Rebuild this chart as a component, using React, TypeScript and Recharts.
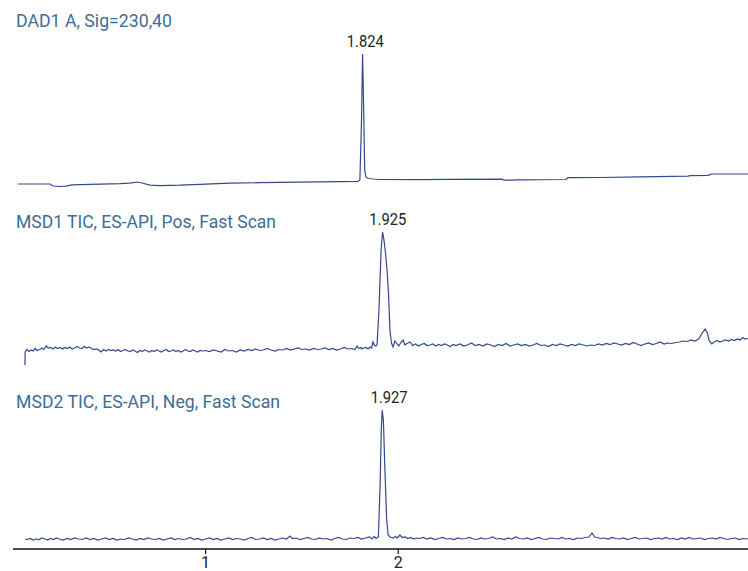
import { LineChart, Line, XAxis, YAxis, ReferenceDot } from "recharts";

// retention time (min), relative response
const dadTrace = [
  [0.026, 0], [0.192, 0], [0.208, -2], [0.244, -2.5], [0.275, -2.2], [0.306, -0.8], [0.4, -0.3],
  [0.556, 0.3], [0.607, 0.8], [0.644, 2], [0.67, 1], [0.711, -1.2], [0.763, -1.6], [0.867, -1.2],
  [0.971, -0.3], [1.127, 0.8], [1.282, 1.3], [1.49, 1.8], [1.698, 2.3], [1.791, 2.6], [1.801, 4],
  [1.809, 60], [1.815, 130], [1.821, 70], [1.826, 14], [1.832, 7], [1.845, 5.5], [1.87, 5],
  [1.906, 4.5], [2.113, 4.3], [2.269, 4.6], [2.539, 4.8], [2.549, 3.8], [2.632, 4.2], [2.871, 4.5],
  [2.882, 6.3], [3.048, 6.5], [3.255, 7.2], [3.505, 7.8], [3.515, 8.3], [3.608, 8.6], [3.629, 10],
  [3.816, 10],
];

const msd1Trace = [
  [0.062, 0], [0.063, 13], [0.072, 15.5], [0.083, 13.5], [0.094, 15], [0.104, 14], [0.115, 16.5],
  [0.125, 14.5], [0.138, 15.5], [0.15, 17], [0.16, 15.5], [0.172, 19], [0.183, 17], [0.195, 17.5],
  [0.208, 16], [0.22, 18], [0.232, 16.5], [0.245, 17.5], [0.257, 16], [0.27, 17.5], [0.282, 16.5],
  [0.295, 18], [0.307, 16], [0.32, 17], [0.333, 18.5], [0.345, 17], [0.358, 16.5], [0.37, 18.5],
  [0.383, 17], [0.395, 18], [0.408, 16.5], [0.42, 15.5], [0.433, 16], [0.445, 15], [0.457, 13],
  [0.47, 15.5], [0.483, 14], [0.495, 15.5], [0.508, 14.5], [0.52, 15], [0.533, 14], [0.546, 15.5],
  [0.558, 13.5], [0.571, 14.5], [0.583, 15.5], [0.596, 14], [0.608, 13.5], [0.621, 15], [0.633, 14],
  [0.646, 12.5], [0.658, 14.5], [0.671, 13.5], [0.683, 15], [0.696, 14], [0.708, 13], [0.721, 14.5],
  [0.733, 13.5], [0.746, 15], [0.758, 14], [0.771, 13], [0.783, 14.5], [0.796, 15.5], [0.808, 13.5],
  [0.821, 14], [0.833, 15], [0.846, 13.5], [0.858, 14.5], [0.871, 13], [0.883, 14], [0.896, 15.5],
  [0.908, 14], [0.921, 13.5], [0.933, 15], [0.946, 14], [0.958, 13], [0.971, 14.5], [0.983, 14],
  [1.0, 14.5], [1.02, 13.5], [1.04, 15], [1.06, 14], [1.08, 13], [1.1, 15.5], [1.12, 14], [1.14, 14.5],
  [1.16, 13], [1.18, 15], [1.2, 14], [1.22, 15.5], [1.24, 14.5], [1.26, 16], [1.28, 14.5], [1.3, 15],
  [1.32, 16.5], [1.34, 15], [1.36, 14], [1.38, 15.5], [1.4, 15], [1.42, 16.5], [1.44, 15], [1.46, 16],
  [1.48, 17], [1.5, 15.5], [1.52, 16], [1.54, 15], [1.56, 16.5], [1.58, 15.5], [1.6, 16], [1.62, 17],
  [1.64, 15.5], [1.66, 16.5], [1.68, 15], [1.7, 16], [1.72, 17.5], [1.74, 16], [1.76, 16.5],
  [1.775, 15.5], [1.786, 19], [1.795, 16.5], [1.805, 17.5], [1.812, 16], [1.82, 17], [1.833, 17.5],
  [1.843, 16], [1.854, 18], [1.862, 17], [1.869, 23], [1.876, 20], [1.883, 19], [1.89, 20],
  [1.9, 55], [1.911, 115], [1.919, 133], [1.926, 125], [1.934, 112], [1.942, 95], [1.95, 70],
  [1.957, 35], [1.965, 22], [1.973, 18], [1.983, 24], [1.994, 21], [2.003, 19], [2.012, 22],
  [2.025, 25], [2.035, 20], [2.045, 21.5], [2.061, 23], [2.075, 19.5], [2.09, 21], [2.105, 19],
  [2.12, 20.5], [2.135, 21.5], [2.15, 19.5], [2.165, 20], [2.18, 21], [2.195, 19], [2.21, 20.5],
  [2.225, 19.5], [2.24, 21], [2.255, 20], [2.27, 18.5], [2.285, 20.5], [2.3, 19.5], [2.32, 21],
  [2.34, 19], [2.36, 20], [2.38, 22], [2.4, 19.5], [2.42, 20.5], [2.44, 19], [2.46, 21], [2.48, 20],
  [2.5, 18.5], [2.52, 20.5], [2.54, 19.5], [2.56, 21.5], [2.58, 19], [2.6, 20], [2.62, 21],
  [2.64, 19.5], [2.66, 20.5], [2.68, 19], [2.7, 20], [2.72, 21.5], [2.74, 19.5], [2.76, 20],
  [2.78, 18.5], [2.8, 20.5], [2.82, 19.5], [2.84, 21], [2.86, 20], [2.88, 19], [2.9, 20.5],
  [2.92, 19.5], [2.94, 21], [2.96, 20], [2.98, 19], [3.0, 20], [3.02, 19.5], [3.04, 21], [3.06, 20],
  [3.08, 21.5], [3.1, 20.5], [3.12, 22], [3.14, 21], [3.16, 20], [3.18, 21.5], [3.2, 20.5],
  [3.22, 22.5], [3.24, 21], [3.26, 19.5], [3.28, 21], [3.3, 22], [3.32, 20.5], [3.34, 21.5],
  [3.36, 23], [3.38, 21], [3.4, 22], [3.42, 21.5], [3.44, 22.5], [3.46, 23], [3.48, 24], [3.5, 23.5],
  [3.52, 25], [3.54, 24], [3.56, 26], [3.575, 31], [3.593, 36], [3.605, 32], [3.615, 24],
  [3.628, 21], [3.64, 23], [3.655, 24.5], [3.67, 23], [3.685, 24], [3.7, 25], [3.715, 24],
  [3.73, 25.5], [3.745, 24.5], [3.76, 26], [3.775, 25], [3.79, 27.5], [3.8, 26], [3.816, 26.5],
];

const msd2Trace = [
  [0.062, 6], [0.075, 5.5], [0.09, 6.5], [0.105, 5], [0.12, 6], [0.135, 5.5], [0.15, 7], [0.165, 6],
  [0.18, 5], [0.195, 6.5], [0.21, 5.5], [0.225, 7], [0.24, 6], [0.26, 5], [0.28, 6.5], [0.3, 5.5],
  [0.32, 7], [0.34, 6], [0.36, 5.5], [0.38, 7], [0.4, 5.5], [0.42, 6.5], [0.44, 5], [0.46, 6],
  [0.48, 7], [0.5, 5.5], [0.52, 6.5], [0.54, 5], [0.56, 6], [0.58, 5.5], [0.6, 7], [0.62, 6],
  [0.64, 5], [0.66, 6.5], [0.68, 5.5], [0.7, 7], [0.72, 6], [0.74, 5.5], [0.76, 6.5], [0.78, 5],
  [0.8, 6], [0.82, 7], [0.84, 5.5], [0.86, 6.5], [0.88, 5.5], [0.9, 6], [0.92, 7.5], [0.94, 5.5],
  [0.96, 6.5], [0.98, 5], [1.0, 6], [1.02, 7], [1.04, 5.5], [1.06, 6.5], [1.08, 5], [1.1, 6],
  [1.12, 7], [1.14, 5.5], [1.16, 6.5], [1.18, 6], [1.2, 5], [1.22, 6.5], [1.24, 7.5], [1.26, 5.5],
  [1.28, 6], [1.3, 7], [1.32, 5.5], [1.34, 6.5], [1.36, 5], [1.38, 6], [1.4, 7], [1.42, 6],
  [1.438, 9], [1.45, 6.5], [1.47, 7], [1.49, 5.5], [1.51, 6.5], [1.53, 7.5], [1.55, 6], [1.57, 5.5],
  [1.59, 7], [1.61, 6], [1.63, 6.5], [1.65, 5], [1.67, 6.5], [1.69, 7.5], [1.71, 6], [1.73, 5.5],
  [1.75, 7], [1.77, 6.5], [1.79, 7.5], [1.81, 6], [1.83, 7], [1.85, 8], [1.865, 6], [1.875, 8.5],
  [1.885, 6.5], [1.897, 8], [1.906, 60], [1.912, 115], [1.917, 135], [1.923, 125], [1.931, 75],
  [1.94, 25], [1.948, 10], [1.957, 8], [1.965, 7.5], [1.973, 7], [1.985, 8.5], [1.995, 7],
  [2.009, 10], [2.02, 7.5], [2.035, 8], [2.05, 6.5], [2.065, 7.5], [2.08, 6], [2.095, 7], [2.11, 6.5],
  [2.13, 7.5], [2.15, 6], [2.17, 7], [2.19, 5.5], [2.21, 6.5], [2.23, 7.5], [2.25, 6], [2.27, 6.5],
  [2.29, 5.5], [2.31, 7], [2.33, 6], [2.35, 6.5], [2.37, 7.5], [2.39, 6], [2.41, 5.5], [2.43, 7],
  [2.45, 6], [2.47, 6.5], [2.49, 8], [2.51, 6], [2.53, 6.5], [2.55, 5.5], [2.57, 7], [2.59, 6],
  [2.61, 8], [2.63, 6.5], [2.65, 6], [2.67, 7], [2.69, 5.5], [2.71, 6.5], [2.73, 7.5], [2.75, 6],
  [2.77, 5.5], [2.79, 7], [2.81, 6.5], [2.83, 6], [2.85, 7.5], [2.87, 6], [2.89, 6.5], [2.91, 5.5],
  [2.93, 7], [2.95, 6.5], [2.97, 7.5], [2.99, 8], [3.006, 12], [3.02, 8], [3.035, 7.5], [3.05, 6.5],
  [3.07, 7], [3.09, 6], [3.11, 7.5], [3.13, 6.5], [3.15, 6], [3.17, 7], [3.19, 5.5], [3.21, 6.5],
  [3.23, 7.5], [3.25, 6], [3.27, 6.5], [3.29, 7], [3.31, 5.5], [3.33, 6.5], [3.35, 7], [3.37, 6],
  [3.39, 7.5], [3.41, 6], [3.43, 6.5], [3.45, 5.5], [3.47, 7], [3.49, 6], [3.51, 7.5], [3.53, 6],
  [3.55, 6.5], [3.57, 7], [3.59, 5.5], [3.61, 6.5], [3.63, 7], [3.65, 6], [3.67, 7.5], [3.69, 6.5],
  [3.71, 5.5], [3.73, 6.5], [3.75, 7], [3.77, 5.5], [3.79, 6.5], [3.816, 6],
];

const traceTitles = ["DAD1 A, Sig=230,40", "MSD1 TIC, ES-API, Pos, Fast Scan", "MSD2 TIC, ES-API, Neg, Fast Scan"];
const peakTimes = [1.824, 1.925, 1.927];
const peakHeights = [130, 133, 135];
const xTicks = [1, 2];

const toPoints = (pairs: number[][]) => pairs.map(([t, v]) => ({ t, v }));

const FONT = "Roboto, 'Liberation Sans', sans-serif";
const LINE = "#34498c";
const TITLE = "#3d6e98";

// each trace sits in its own band; plot area is 549px tall
const bands = [
  { id: "dad", domain: [-365, 184], titleY: 27, titleW: 156, dx: 1 },
  { id: "ms1", domain: [-184, 365], titleY: 228, titleW: 260, dx: 4 },
  { id: "ms2", domain: [-4, 545], titleY: 408, titleW: 264, dx: 5 },
];
const series = [dadTrace, msd1Trace, msd2Trace].map(toPoints);

function peakLabel(text: string, dx: number) {
  return (props: any) => {
    const { x, y } = props.viewBox;
    return (
      <text
        x={x + dx}
        y={y - 7}
        textAnchor="middle"
        fill="#222"
        fontSize={16.5}
        fontFamily={FONT}
        textLength={37}
        lengthAdjust="spacingAndGlyphs"
      >
        {text}
      </text>
    );
  };
}

export default function App() {
  return (
    <div style={{ position: "absolute", left: 0, top: 0, width: 748, height: 571, background: "#fff" }}>
      <LineChart width={748} height={571} margin={{ top: 0, right: 0, bottom: 0, left: 13 }}>
        <XAxis
          dataKey="t"
          type="number"
          domain={[0, 3.816]}
          ticks={xTicks}
          allowDataOverflow
          height={22}
          stroke="#111"
          axisLine={{ stroke: "#111", strokeWidth: 1.5 }}
          tickLine={{ stroke: "#111", strokeWidth: 1.2 }}
          tickSize={5}
          tickMargin={3}
          tick={{ fill: "#222", fontSize: 16, fontFamily: FONT }}
        />
        {bands.map((b) => (
          <YAxis key={b.id} yAxisId={b.id} hide type="number" domain={b.domain} allowDataOverflow />
        ))}
        {bands.map((b, i) => (
          <Line
            key={b.id}
            yAxisId={b.id}
            data={series[i]}
            dataKey="v"
            type="linear"
            stroke={LINE}
            strokeWidth={1.2}
            dot={false}
            activeDot={false}
            isAnimationActive={false}
          />
        ))}
        {bands.map((b, i) => (
          <ReferenceDot
            key={b.id + "-pk"}
            yAxisId={b.id}
            x={peakTimes[i]}
            y={peakHeights[i]}
            r={0}
            fill="none"
            stroke="none"
            label={peakLabel(peakTimes[i].toFixed(3), b.dx)}
          />
        ))}
      </LineChart>
      <svg width={748} height={571} style={{ position: "absolute", left: 0, top: 0, pointerEvents: "none" }}>
        {bands.map((b, i) => (
          <text
            key={b.id}
            x={16}
            y={b.titleY}
            fill={TITLE}
            fontSize={18}
            fontFamily={FONT}
            textLength={b.titleW}
            lengthAdjust="spacingAndGlyphs"
          >
            {traceTitles[i]}
          </text>
        ))}
      </svg>
    </div>
  );
}
